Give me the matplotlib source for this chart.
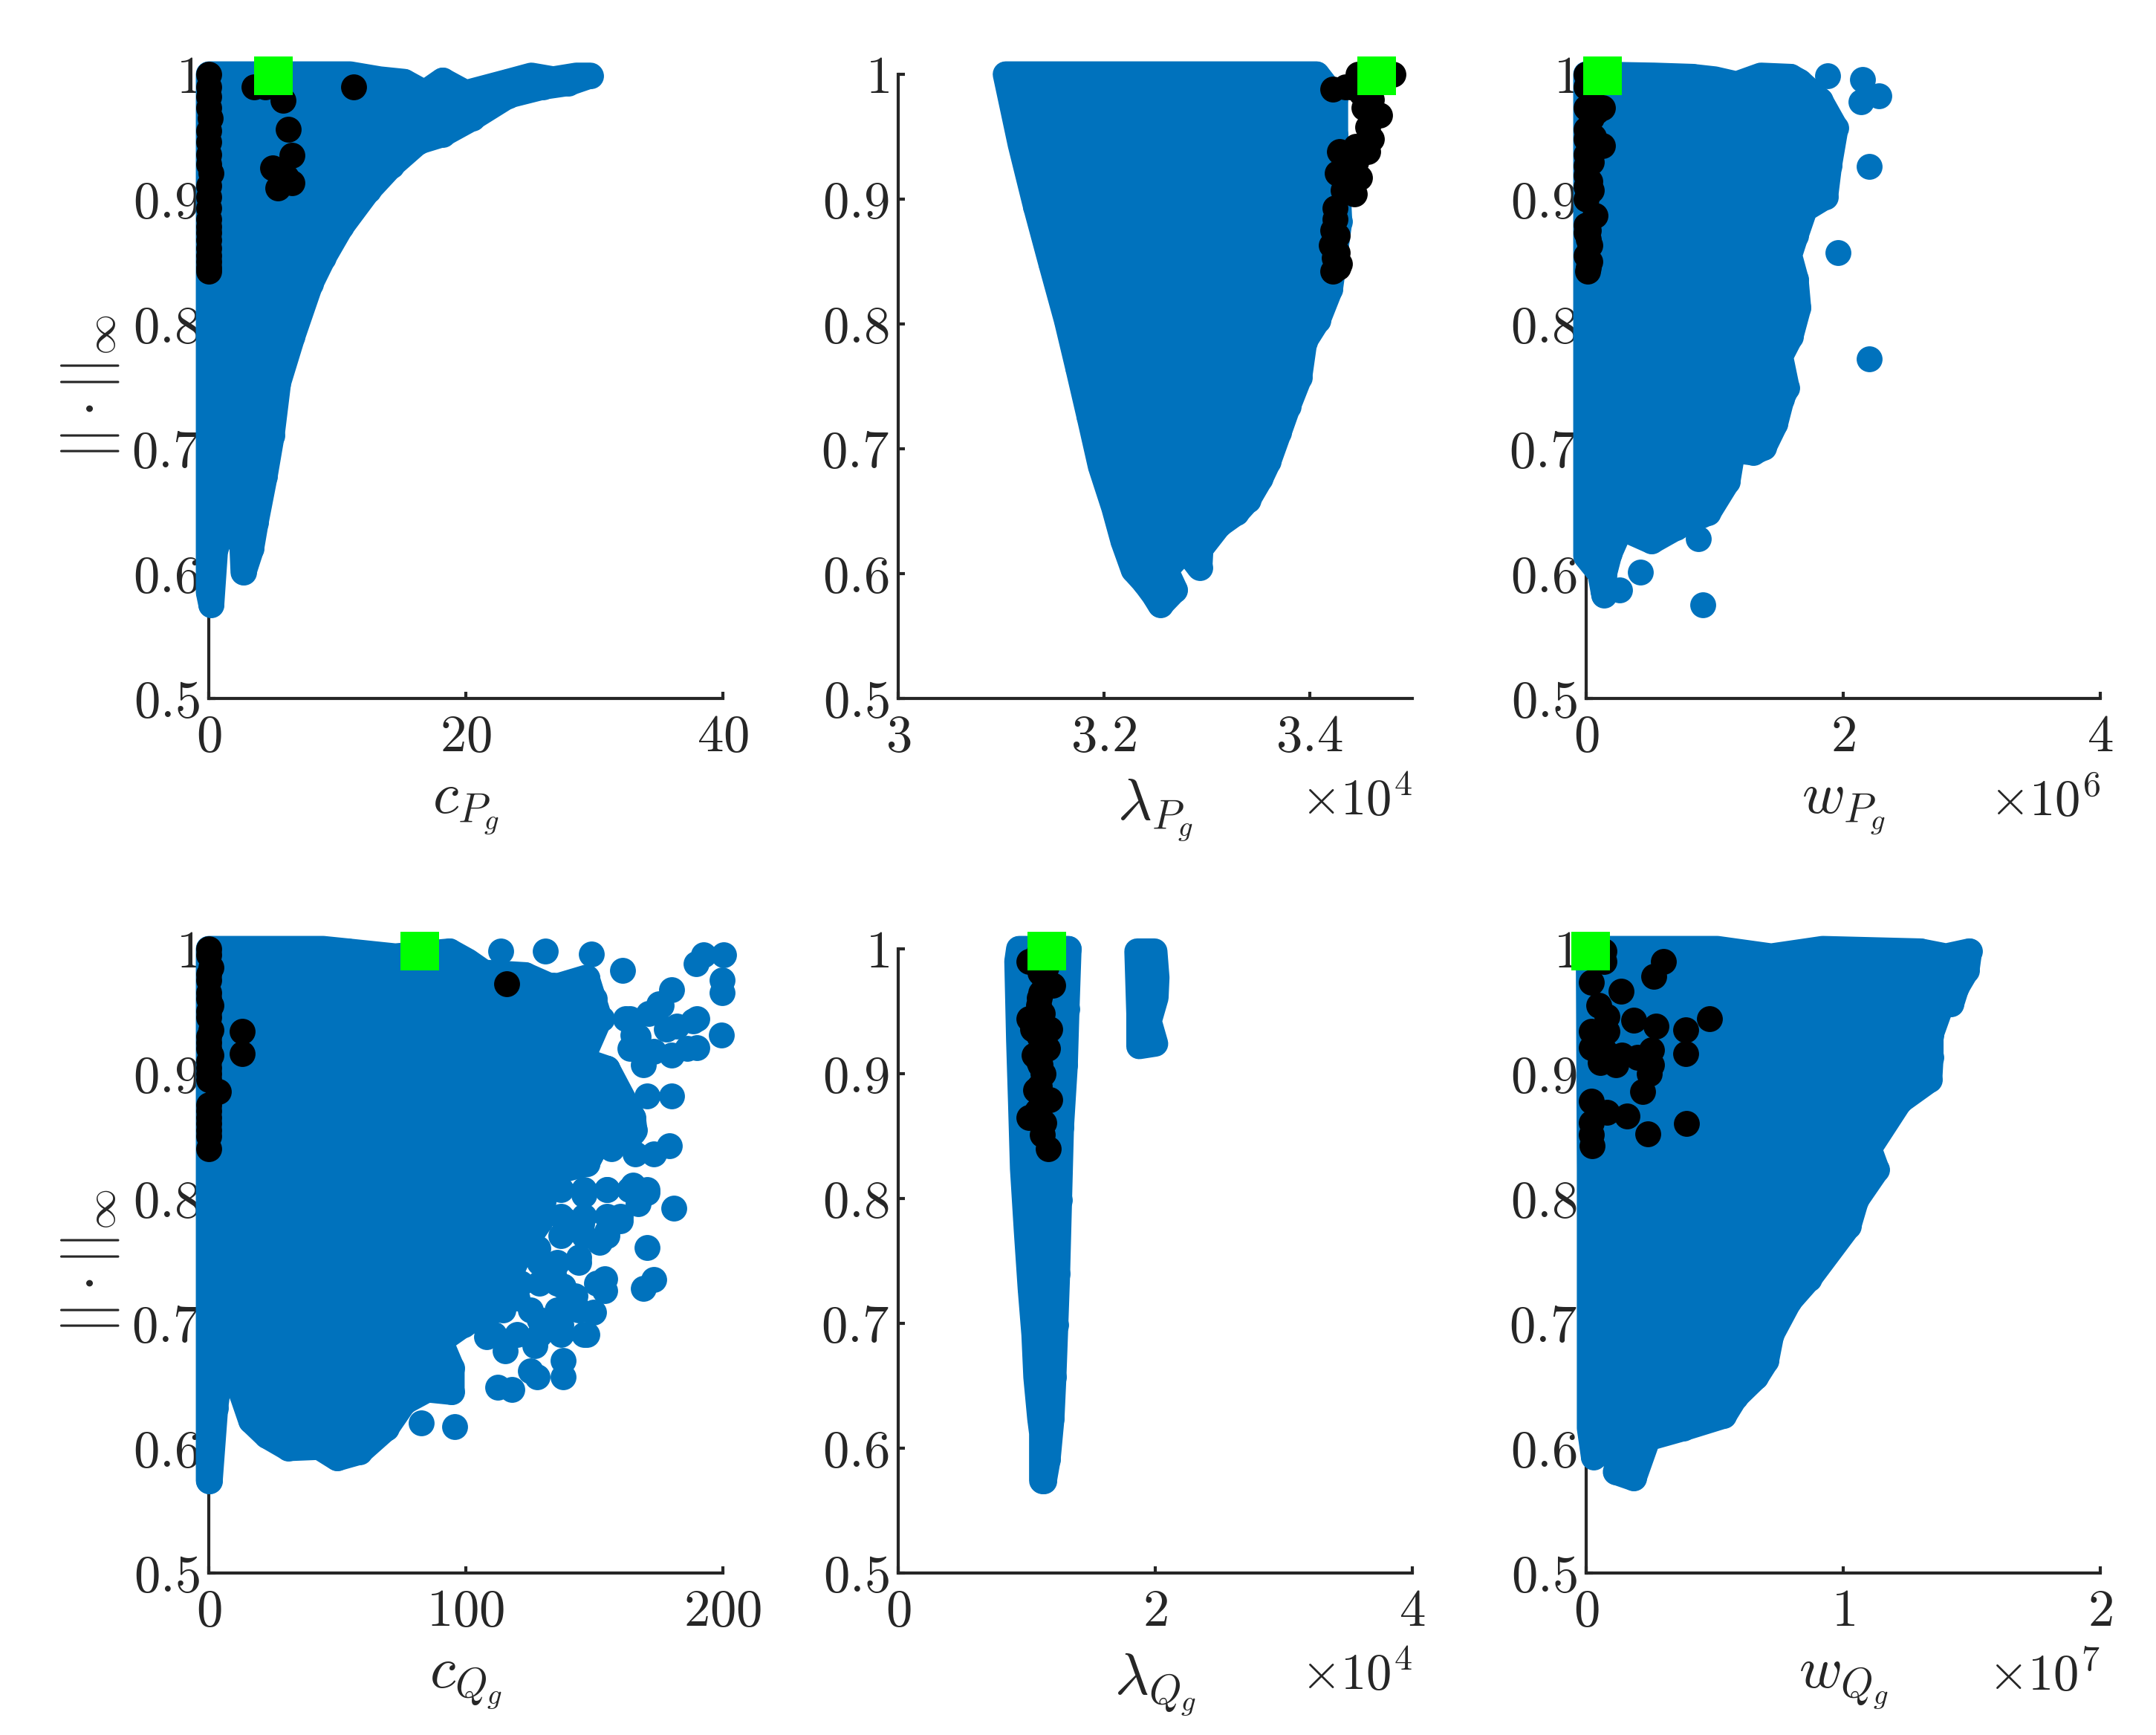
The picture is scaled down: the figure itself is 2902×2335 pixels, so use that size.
#!/usr/bin/env python3
"""Six scatter panels of the norm against the generator parameters."""
import matplotlib
matplotlib.use('Agg')
import matplotlib.pyplot as plt

plt.rcParams['mathtext.fontset'] = 'cm'
plt.rcParams['font.family'] = 'cmr10'
plt.rcParams['axes.formatter.use_mathtext'] = True

BLUE = '#0072BD'
DARK = '#262626'
MS = 70  # marker area, pt^2
MD = 8.37  # marker diameter, pt

# outer ring of the solid blue cloud, in drawing order, then separate points
cp_hull_x = [0, 3, 7.75, 11, 13.3, 15.2, 16.8, 18.2, 20, 23.3, 25.1, 26.8, 28.6, 29.7, 28, 26, 23.3, 20.5, 18.2,
             16.3, 14.2, 12.4, 10.3, 8.9, 7.9, 6.5, 5.4, 4.9, 4.35, 3.65, 3.3, 2.7, 2.6, 1.7, 0.5, 0.2, 0]
cp_hull_y = [1, 1, 1, 1, .996, .994, .985, .995, .985, .994, .999, .996, .999, .999, .993, .99, .983, .965, .952,
             .946, .927, .907, .878, .853, .832, .79, .753, .711, .678, .641, .62, .601, .625, .645, .62, .575, .585]
cp_black_x = [0, 0, 0, 0.1, 0, 0, 0.2, 0, 0, 0, 0, 0, 0, 0, 3.5, 5.8, 6.2, 6.5, 4.95, 6.5, 5.4, 11.3,
              0, 0, 0, 0, 0, 0, 0, 0, 6, 4.4]
cp_black_y = [1, .99, .973, .965, .946, .936, .921, .911, .902, .884, .873, .861, .85, .842,
              .99, .979, .956, .935, .925, .913, .909, .99,
              .982, .955, .928, .893, .878, .867, .855, .845, .918, .99]

lp_hull_x = [3.1045, 3.407, 3.425, 3.425, 3.429, 3.42, 3.408, 3.395, 3.39, 3.379, 3.37, 3.36, 3.352, 3.34, 3.329,
             3.312, 3.294, 3.293, 3.279, 3.26, 3.269, 3.255, 3.249, 3.24, 3.229, 3.219, 3.21, 3.197, 3.186,
             3.175, 3.164, 3.149, 3.134, 3.119]
lp_hull_y = [1, 1, .981, .952, .882, .828, .803, .786, .757, .734, .713, .69, .676, .659, .649,
             .639, .62, .605, .62, .603, .587, .575, .583, .593, .603, .626, .653, .686, .726,
             .765, .803, .848, .894, .944]
lp_black_x = [3.423, 3.447, 3.481, 3.468, 3.453, 3.468, 3.457, 3.457, 3.445, 3.429, 3.427, 3.449, 3.433, 3.444,
              3.425, 3.423, 3.427, 3.421, 3.427, 3.423, 3.429, 3.438,
              3.435, 3.44, 3.45, 3.445, 3.44, 3.435, 3.46, 3.425, 3.428, 3.424, 3.45, 3.46]
lp_black_y = [.988, 1, 1, 1, .973, .967, .958, .938, .942, .938, .921, .917, .907, .904,
              .884, .875, .871, .863, .857, .842, .848, .927,
              .99, .99, .995, .93, .915, .93, .98, .893, .845, .853, .985, .948]

wp_hull_x = [0, .53, .825, 1.0, 1.17, 1.36, 1.59, 1.66, 1.82, 1.94, 1.89, 1.86, 1.7, 1.63, 1.58, 1.63, 1.65, 1.59,
             1.51, 1.56, 1.52, 1.47, 1.38, 1.3, 1.14, 1.1, .95, .7, .51, .27, .18, .14, .14, .11, 0]
wp_hull_y = [1, .999, .998, .996, .992, .999, .998, .994, .979, .957, .927, .902, .892, .871, .855, .836, .813, .79,
             .774, .749, .74, .72, .701, .697, .699, .674, .649, .637, .626, .637, .616, .6, .583, .6, .614]
wp_extra_x = [1.88, 2.15, 2.28, 2.14, 2.2, 1.96, 2.2, .42, .91, .87, .26]
wp_extra_y = [.999, .996, .983, .978, .926, .857, .772, .601, .575, .628, .587]
wp_black_x = [0, 0, .13, 0, 0, .13, 0, 0, .04, 0, .07, 0, .03, 0, 0, .01,
              .04, .04, .06, 0, .04, 0, .03, 0, .02, .08, .02, .03, .02, .06]
wp_black_y = [1, .99, .973, .973, .956, .943, .936, .919, .907, .9, .887, .879, .863, .873, .855, .842,
              .98, .965, .95, .948, .93, .927, .914, .91, .875, .97, .868, .85, .845, .94]

cq_hull_x = [0, 14.7, 44.5, 54, 72.6, 93.7, 100.7, 107, 123, 134, 147, 152, 145, 155, 165, 165.6, 150, 147, 132,
             129, 122, 111, 99, 90, 94.5,
             94.5, 85, 76, 69, 58.6, 50, 43, 31, 22.6, 16.5, 13, 13, 6, 2.5, .4, 0]
cq_hull_y = [1, 1, 1, .998, .994, .998, .99, .981, .979, .969, .977, .944, .911, .904, .865, .855, .84, .828, .82,
             .782, .761, .711, .699, .686, .664,
             .645, .647, .637, .616, .597, .592, .601, .6, .61, .622, .643, .682, .686, .632, .574, .574]
cq_extra_x = [113.7, 131, 148.7, 161, 189.5, 192.5, 200.3, 199.8, 199.8, 199.5, 190, 180, 175, 190, 180, 179.3, 173,
              166, 181, 170.6, 167, 170.6, 173, 169, 154, 154, 149.6, 147, 138, 138, 127.7, 125, 118, 112.4, 115.4,
              108, 127, 95.6, 82.7, 165, 160, 155, 144, 134, 142.5, 128.5, 137, 139, 146, 155, 147, 156.6, 170.6,
              169, 180, 165, 162, 178, 188.4, 155, 145, 135.5, 132, 153, 147, 141, 147, 134, 162, 165, 153, 140,
              135.5, 150, 158, 148, 136, 145, 128, 120, 138, 152,
              137, 146, 155, 163.6, 170.6, 137, 146, 155, 160, 137, 146, 155, 128.5, 135.5, 144, 121.5, 128.5,
              135.5, 151, 114.5, 125, 135.5, 144, 111, 120, 128.5, 137, 146, 141, 164, 171, 176, 182, 186, 173,
              167, 164, 150, 143]
cq_extra_y = [.998, .998, .996, .983, .988, .995, .995, .975, .965, .931, .921, .967, .956, .944, .882, .842, .836,
              .836, .792, .805, .796, .761, .735, .728, .736, .726, .709, .691, .67, .657, .657, .662, .647, .649,
              .678, .689, .682, .617, .62, .811, .782, .774, .753, .74, .722, .703, .699, .782, .803, .807, .828,
              .84, .882, .907, .915, .931, .944, .936, .942, .904, .909, .919, .913, .944, .977, .956, .94, .971,
              .869, .853, .848, .873, .934, .862, .885, .9, .845, .78, .76, .72, .73, .765,
              .807, .807, .807, .807, .807, .786, .786, .786, .786, .77, .77, .77, .749, .749, .749, .732, .732,
              .732, .732, .711, .711, .711, .711, .691, .691, .691, .691, .691, .96, .944, .948, .955, .938, .92,
              .918, .93, .92, .96, .93]
cq_black_x = [0, 0, 1, 0, 0, 1, 0, 1, 0, 1, 0, 0, 0, 0, 0, 0, 116, 13.1, 13.1, 3.9,
              0, 0, 0, 0, 0, 0, 0, 0, 0, 0]
cq_black_y = [1, .995, .985, .975, .965, .955, .945, .935, .925, .915, .905, .895, .875, .865, .855, .84,
              .972, .934, .916, .886, .98, .96, .95, .93, .92, .91, .9, .87, .86, .85]

lq_hull_x = [.94, 1.326, 1.31, 1.297, 1.267, 1.252, 1.237, 1.223, 1.208, 1.193, 1.163, 1.134, 1.119, 1.119, 1.104,
             1.074, 1.059, 1.03, 1, .97, .955, .94, .926]
lq_hull_y = [1, 1, .952, .907, .857, .799, .74, .699, .657, .624, .591, .574, .574, .612, .624,
             .657, .691, .728, .774, .824, .877, .927, .99]
lq_side_x = [1.86, 1.994, 2.01, 2.003, 1.95, 2.0, 1.875, 1.875]
lq_side_y = [.998, .998, .977, .961, .942, .924, .922, .948]
lq_black_x = [1.015, 1.2, 1.1, 1.02, 1.18, 1.045, 1.163, 1.06, 1.127, 1.068, 1.178, 1.02, 1.134, 1.119, 1.169,
              1.104, 1.119, 1.104, 1.104, 1.1, 1.1, 1.12, 1.09, 1.11, 1.1, 1.12, 1.08, 1.14, 1.09, 1.15, 1.14]
lq_black_y = [.99, .971, .961, .944, .936, .936, .92, .915, .9, .887, .879, .865, .861, .851, .84,
              .981, .948, .907, .873, .998, .93, .925, .955, .965, .89, .88, .87, .97, .91, .985, .995]

wq_hull_x = [.01, .51, .72, .92, 1.3, 1.4, 1.49, 1.48, 1.44, 1.42, 1.38, 1.34, 1.34, 1.335, 1.22, 1.1, 1.13, 1.05,
             1.02, .867, .79, .72, .7, .66, .58, .535, .378, .24, .185, .115, .16, .03, .014, .014]
wq_hull_y = [1, 1, .994, 1, .998, .994, .998, .983, .969, .956, .954, .931, .913, .895, .878, .84, .823, .799,
             .778, .736, .718, .691, .67, .657, .641, .626, .616, .608, .576, .581, .608, .593, .616, .824]
wq_black_x = [.07, .3, .264, .02, .136, .05, .08, .185, .273, .48, .386, .02, .08, .386, .02, .054, .115, .14, .2,
              .255, .255, .247, .219, .02, .08, .16, .39, .24, .02, .02, .023, .07, .07]
wq_black_y = [.99, .99, .978, .973, .966, .955, .946, .943, .938, .944, .935, .934, .934, .916, .921, .909, .907,
              .915, .913, .919, .907, .9, .886, .878, .869, .866, .86, .852, .861, .851, .842, .919, .998]

xlabels = ['c_{P_g}', '\\lambda_{P_g}', 'w_{P_g}', 'c_{Q_g}', '\\lambda_{Q_g}', 'w_{Q_g}']
xlims = [(0, 40), (3, 3.5), (0, 4), (0, 200), (0, 4), (0, 2)]
xticks = [[0, 20, 40], [3, 3.2, 3.4], [0, 2, 4], [0, 100, 200], [0, 2, 4], [0, 1, 2]]
xticklabels = [['0', '20', '40'], ['3', '3.2', '3.4'], ['0', '2', '4'],
               ['0', '100', '200'], ['0', '2', '4'], ['0', '1', '2']]
exponents = [None, 4, 6, None, 4, 7]
best_x = [5.0, 3.465, .126, 82, 1.157, .017]
best_y = [.999, .999, .999, .998, .998, .998]
yticks = [.5, .6, .7, .8, .9, 1]
yticklabels = ['0.5', '0.6', '0.7', '0.8', '0.9', '1']

hulls = [(cp_hull_x, cp_hull_y), (lp_hull_x, lp_hull_y), (wp_hull_x, wp_hull_y),
         (cq_hull_x, cq_hull_y), (lq_hull_x, lq_hull_y), (wq_hull_x, wq_hull_y)]
extras = [None, None, (wp_extra_x, wp_extra_y), (cq_extra_x, cq_extra_y), None, None]
blacks = [(cp_black_x, cp_black_y), (lp_black_x, lp_black_y), (wp_black_x, wp_black_y),
          (cq_black_x, cq_black_y), (lq_black_x, lq_black_y), (wq_black_x, wq_black_y)]

W, H = 2902, 2335
lefts = [281, 1209, 2135]
tops = [100, 1277]
AW, AH = 692, 840


def solid_cloud(ax, xs, ys):
    # stroke as wide as a marker, so the ring edge sits where the markers end
    ax.fill(xs, ys, facecolor=BLUE, edgecolor=BLUE, lw=MD, joinstyle='round', zorder=3, clip_on=False)


def draw_panel(ax, i):
    hx, hy = hulls[i]
    solid_cloud(ax, hx, hy)
    ax.scatter(hx, hy, s=MS, c=BLUE, linewidths=0, zorder=3, clip_on=False)
    if extras[i] is not None:
        ax.scatter(extras[i][0], extras[i][1], s=MS, c=BLUE, linewidths=0, zorder=3, clip_on=False)
    if i == 4:
        solid_cloud(ax, lq_side_x, lq_side_y)
    ax.scatter(blacks[i][0], blacks[i][1], s=MS, c='k', linewidths=0, zorder=4, clip_on=False)
    ax.scatter([best_x[i]], [best_y[i]], s=156, c='#00FF00', marker='s', linewidths=0, zorder=5, clip_on=False)

    ax.set_xlim(xlims[i])
    ax.set_ylim(.5, 1)
    ax.set_xticks(xticks[i])
    ax.set_xticklabels(['$%s$' % t for t in xticklabels[i]])
    ax.set_yticks(yticks)
    ax.set_yticklabels(['$%s$' % t for t in yticklabels])
    ax.tick_params(direction='in', length=2.2, width=1, colors=DARK, labelsize=17, pad=3)
    ax.tick_params(axis='x', pad=5)
    for s in ['top', 'right']:
        ax.spines[s].set_visible(False)
    for s in ['left', 'bottom']:
        ax.spines[s].set_linewidth(1)
        ax.spines[s].set_color(DARK)

    ax.text(.5, -.178, '$%s$' % xlabels[i], transform=ax.transAxes, ha='center', va='center',
            fontsize=19, color=DARK)
    if exponents[i] is not None:
        ax.text(1.0, -.165, '$\\times 10^{%d}$' % exponents[i], transform=ax.transAxes, ha='right', va='center',
                fontsize=16.5, color=DARK)
    if i % 3 == 0:
        ax.text(-.23, .5, '$||\\cdot||_\\infty$', transform=ax.transAxes, rotation=90, ha='center', va='center',
                fontsize=19, color=DARK)


def main():
    fig = plt.figure(figsize=(W / 300, H / 300), dpi=300)
    for i in range(6):
        left = lefts[i % 3]
        top = tops[i // 3]
        ax = fig.add_axes([left / W, 1 - (top + AH) / H, AW / W, AH / H])
        draw_panel(ax, i)
    fig.savefig('out.png', dpi=300)
    plt.close(fig)


if __name__ == '__main__':
    main()
